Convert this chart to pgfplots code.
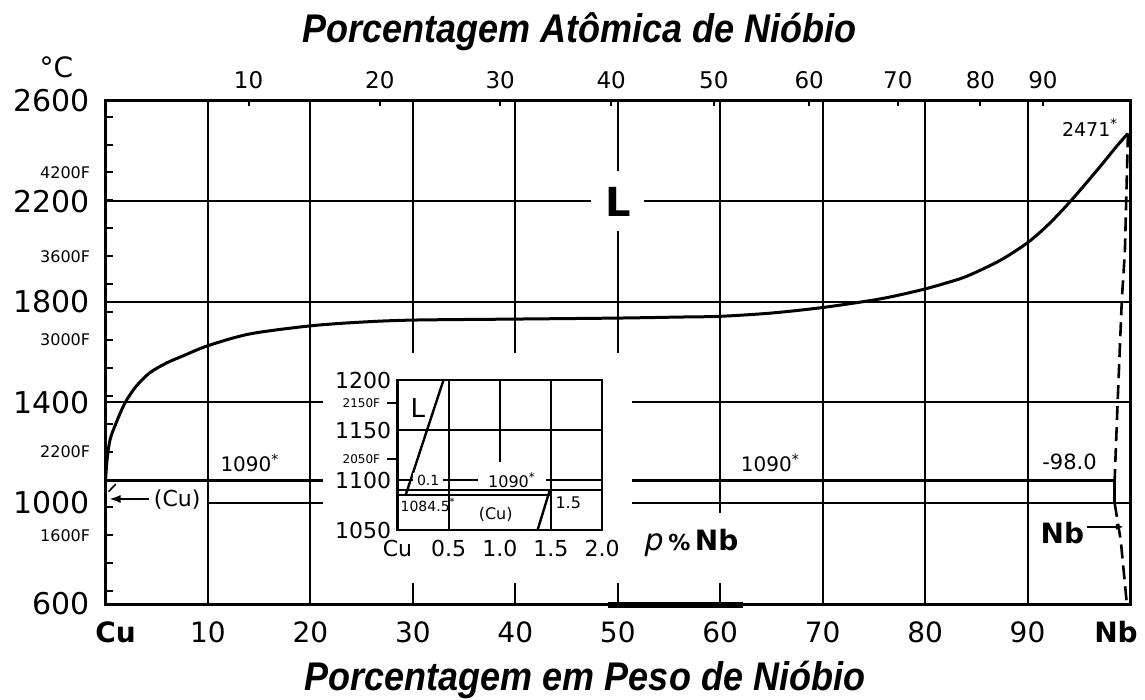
\documentclass[border=0pt]{standalone}
\usepackage{fontspec}
\setmainfont{DejaVu Sans}
\newfontfamily\ttlfont{Liberation Sans}[FakeStretch=0.9]
\usepackage{pgfplots}
\pgfplotsset{compat=1.18}
\usetikzlibrary{arrows.meta}
\newcommand\fs[1]{\fontsize{#1}{#1}\selectfont}
\newcommand\ocirc{\char"00F4\relax}
\newcommand\oacute{\char"00F3\relax}
\newcommand\degsign{\char"00B0\relax}

\begin{document}
\begin{tikzpicture}
\path[use as bounding box] (0,0) rectangle (572.5pt,350pt);
% ---------------- main diagram: Cu--Nb ----------------
\begin{axis}[
  at={(52.75pt,47.5pt)}, anchor=south west,
  width=512.25pt, height=252pt, scale only axis,
  xmin=0, xmax=100, ymin=594, ymax=2600,
  clip=false,
  axis line style={line width=1.5pt},
  tick align=inside,
  xtick pos=left, ytick pos=left,
  xtick={0,10,...,100},
  xticklabels={\hspace*{10pt}\textbf{Cu},10,20,30,40,50,60,70,80,90,\textbf{Nb}\hspace*{14pt}},
  ytick={600,1000,1400,1800,2200,2600},
  yticklabels={600,1000,1400,1800,2200,2600},
  major tick length=11pt,
  xtick style={line width=1pt, black},
  ytick style={draw=none},
  xticklabel style={font=\fs{14}, inner sep=0pt, anchor=north, yshift=-8pt},
  yticklabel style={font=\fs{15}, inner sep=0pt, anchor=east, xshift=-7.5pt},
]
% grid
\pgfplotsinvokeforeach{10,20,70,80,90}{\draw[line width=1pt] (axis cs:#1,594) -- (axis cs:#1,2600);}
\pgfplotsinvokeforeach{30,40,50}{\draw[line width=1pt] (axis cs:#1,1597) -- (axis cs:#1,2600);}
\draw[line width=1pt] (axis cs:60,960) -- (axis cs:60,2600);
\draw[line width=1pt] (axis cs:0,2200) -- (axis cs:100,2200);
\draw[line width=1pt] (axis cs:0,1800) -- (axis cs:100,1800);
\draw[line width=1pt] (axis cs:0,1400) -- (axis cs:21.2,1400);
\draw[line width=1pt] (axis cs:51.4,1400) -- (axis cs:100,1400);
\draw[line width=1pt] (axis cs:10,1000) -- (axis cs:21.2,1000);
\draw[line width=1pt] (axis cs:51.4,1000) -- (axis cs:100,1000);
\draw[line width=3pt] (axis cs:49,594) -- (axis cs:62.2,594);
% Fahrenheit ticks (every 200 F)
\pgfplotsinvokeforeach{648.9,760.0,871.1,982.2,1093.3,1204.4,1315.6,1426.7,1537.8,1648.9,1760.0,1871.1,1982.2,2093.3,2204.4,2315.6,2426.7,2537.8}{%
  \draw[line width=1pt] (axis cs:0,#1) -- (axis cs:0.7,#1);}
\node[font=\fs{8}, anchor=east, inner sep=0pt, xshift=-7.5pt] at (axis cs:0,2315.6) {4200F};
\node[font=\fs{8}, anchor=east, inner sep=0pt, xshift=-7.5pt] at (axis cs:0,1982.2) {3600F};
\node[font=\fs{8}, anchor=east, inner sep=0pt, xshift=-7.5pt] at (axis cs:0,1648.9) {3000F};
\node[font=\fs{8}, anchor=east, inner sep=0pt, xshift=-7.5pt] at (axis cs:0,1204.4) {2200F};
\node[font=\fs{8}, anchor=east, inner sep=0pt, xshift=-7.5pt] at (axis cs:0,871.1) {1600F};
% atomic percent scale on top
\pgfplotsinvokeforeach{13.97,26.77,38.52,49.36,59.38,68.68,77.33,85.40,91.5}{%
  \draw[line width=1pt] (axis cs:#1,2600) -- (axis cs:#1,2580);}
\node[font=\fs{11.5}] at (axis cs:13.97,2684) {10};
\node[font=\fs{11.5}] at (axis cs:26.77,2684) {20};
\node[font=\fs{11.5}] at (axis cs:38.52,2684) {30};
\node[font=\fs{11.5}] at (axis cs:49.36,2684) {40};
\node[font=\fs{11.5}] at (axis cs:59.38,2684) {50};
\node[font=\fs{11.5}] at (axis cs:68.68,2684) {60};
\node[font=\fs{11.5}] at (axis cs:77.33,2684) {70};
\node[font=\fs{11.5}] at (axis cs:85.40,2684) {80};
\node[font=\fs{11.5}] at (axis cs:91.5,2684) {90};
% invariant line at 1090 C
\draw[line width=1.7pt] (axis cs:0,1090) -- (axis cs:21.2,1090);
\draw[line width=1.7pt] (axis cs:51.4,1090) -- (axis cs:98.5,1090);
% liquidus
\addplot[line width=1.5pt, smooth, tension=0.5] coordinates {
 (0,1084.5) (0.15,1171) (0.44,1251) (1.0,1315) (1.9,1398) (3.0,1465)
 (4.35,1519) (6.0,1558) (7.6,1586) (10,1626) (14.1,1673) (20,1705)
 (25,1720) (30,1728) (40,1732) (50,1736) (56,1740) (60,1743) (65,1756)
 (70,1778) (75,1808) (77.5,1828) (80,1852) (82,1875) (84.1,1903) (87.3,1965)
 (90,2036) (92.1,2111) (94.3,2206) (97,2335) (98.7,2420) (99.8,2471)};
% Nb solidus / solvus
\addplot[line width=1.3pt, dash pattern=on 7pt off 3.5pt] coordinates {
 (99.8,2471) (99.5,2000) (99.2,1808) (98.8,1410) (98.5,1090)};
\addplot[line width=1.3pt] coordinates {(98.5,1090) (98.5,1000)};
\addplot[line width=1.3pt, dash pattern=on 7pt off 3.5pt] coordinates {
 (98.5,1000) (99.1,850) (99.7,594)};
% labels
\node[font=\bfseries\fs{20}, fill=white, minimum width=26.5pt, minimum height=30pt, inner sep=0pt] at (axis cs:50,2200) {L};
\node[font=\fs{9.5}] at (axis cs:96.1,2493) {2471\textsuperscript{*}};
\node[font=\fs{10}] at (axis cs:14.1,1159) {1090\textsuperscript{*}};
\node[font=\fs{10}] at (axis cs:64.9,1159) {1090\textsuperscript{*}};
\node[font=\fs{10.5}] at (axis cs:94.1,1163) {-98.0};
\node[font=\bfseries\fs{14}] at (axis cs:93.4,881) {Nb};
\draw[line width=1pt, -{Latex[length=4pt,width=3pt]}] (axis cs:95.8,905) -- (axis cs:99.4,905);
\node[font=\fs{11}] at (axis cs:7.0,1012) {(Cu)};
\draw[line width=1.2pt, -{Latex[length=6pt,width=4pt]}] (axis cs:4.2,1016) -- (axis cs:0.3,1016);
\draw[line width=0.8pt] (axis cs:0.3,1045) -- (axis cs:1.0,1075);
\node[font=\fs{14}] at (axis cs:57.2,841) {{\itshape\fs{15}p}\,{\bfseries\fs{11}\%}\,\textbf{Nb}};
\node[font=\fs{14}] at (axis cs:-4.8,2735) {\degsign C};
% axis titles
\node[font=\ttlfont\bfseries\itshape\fs{20}] at (rel axis cs:0.463,1.137) {Porcentagem At\ocirc mica de Ni\oacute bio};
\node[font=\ttlfont\bfseries\itshape\fs{20}] at (rel axis cs:0.468,-0.149) {Porcentagem em Peso de Ni\oacute bio};
\end{axis}
% ---------------- inset: Cu-rich corner ----------------
\begin{axis}[
  at={(198.75pt,85pt)}, anchor=south west,
  width=102.25pt, height=75pt, scale only axis,
  xmin=0, xmax=2, ymin=1050, ymax=1200,
  clip=false,
  axis background/.style={fill=white},
  axis line style={line width=1.2pt},
  xtick={0,0.5,1,1.5,2}, xticklabels={Cu,0.5,1.0,1.5,2.0},
  ytick={1050,1100,1150,1200}, yticklabels={1050,1100,1150,1200},
  tick style={draw=none},
  xticklabel style={font=\fs{11}, inner sep=0pt, anchor=north, yshift=-5pt},
  yticklabel style={font=\fs{11}, inner sep=0pt, anchor=east, xshift=-3pt},
]
\draw[line width=1pt] (axis cs:0.5,1050) -- (axis cs:0.5,1200);
\draw[line width=1pt] (axis cs:1.0,1118) -- (axis cs:1.0,1200);
\draw[line width=1pt] (axis cs:1.5,1050) -- (axis cs:1.5,1200);
\draw[line width=1pt] (axis cs:0,1150) -- (axis cs:2,1150);
\draw[line width=1pt] (axis cs:0,1100) -- (axis cs:2,1100);
\draw[line width=1.2pt] (axis cs:0,1090) -- (axis cs:2,1090);
\draw[line width=1.2pt] (axis cs:0,1085) -- (axis cs:1.5,1085);
\draw[line width=1pt] (axis cs:0,1121.1) -- (axis cs:-0.1,1121.1);
\draw[line width=1pt] (axis cs:0,1176.7) -- (axis cs:-0.1,1176.7);
\node[font=\fs{6}, anchor=east, inner sep=0pt, xshift=-8.5pt] at (axis cs:0,1176.7) {2150F};
\node[font=\fs{6}, anchor=east, inner sep=0pt, xshift=-8.5pt] at (axis cs:0,1121.1) {2050F};
\addplot[line width=1.2pt] coordinates {(0.08,1085) (0.45,1200)};
\addplot[line width=1.2pt] coordinates {(1.37,1050) (1.49,1090)};
\node[font=\fs{13}] at (axis cs:0.2,1172) {L};
\node[font=\fs{7}, fill=white, inner ysep=1pt, inner xsep=2pt] at (axis cs:0.3,1100) {0.1};
\node[font=\fs{8}, fill=white, inner ysep=1pt, inner xsep=5pt] at (axis cs:1.12,1100) {1090\textsuperscript{*}};
\node[font=\fs{7}] at (axis cs:0.3,1075) {1084.5\textsuperscript{*}};
\node[font=\fs{8}] at (axis cs:0.96,1066) {(Cu)};
\node[font=\fs{8}] at (axis cs:1.67,1077) {1.5};
\end{axis}
\end{tikzpicture}
\end{document}
